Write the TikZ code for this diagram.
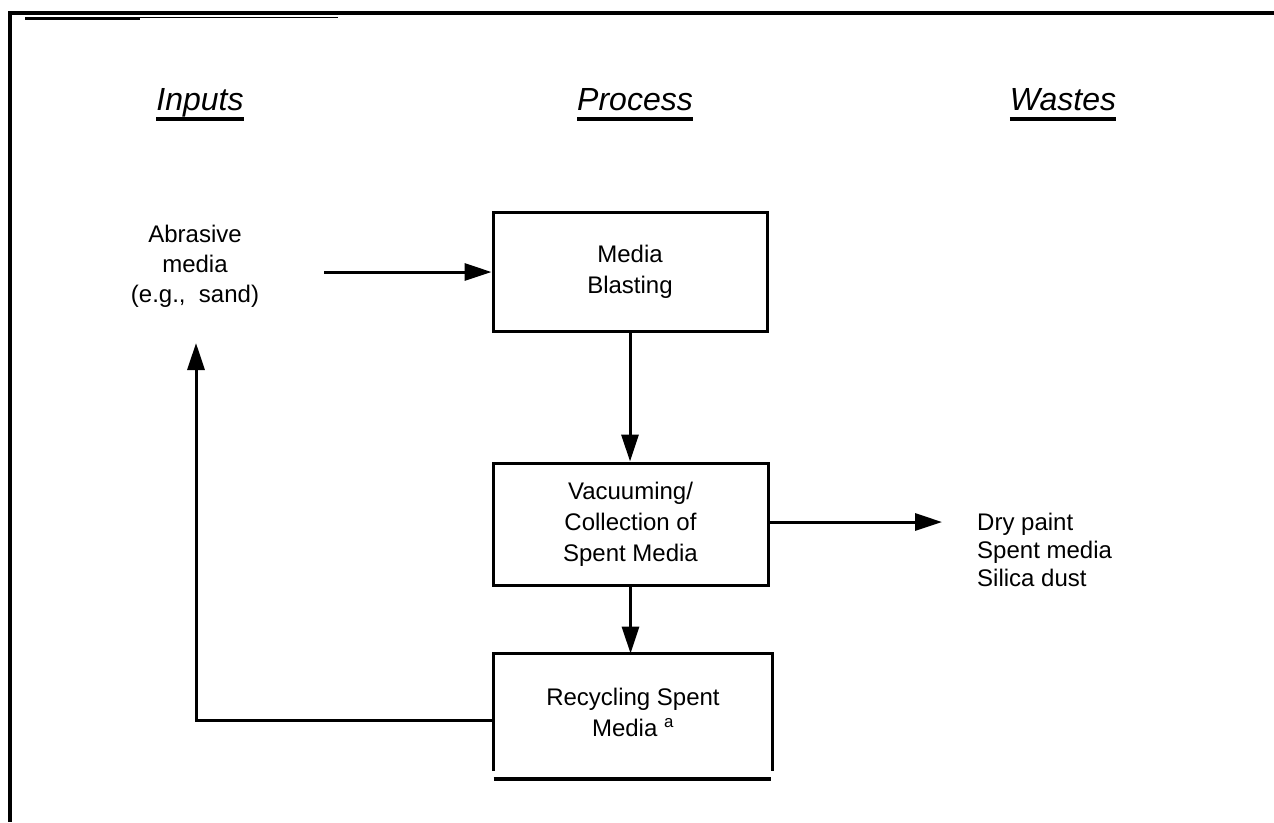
\documentclass[tikz,border=0pt]{standalone}
\usepackage{fontspec}
\setmainfont{Liberation Sans}
\usetikzlibrary{arrows.meta,calc}

\tikzset{
  procbox/.style={draw, line width=3pt, inner sep=0pt, align=center,
    font=\fontsize{24}{31}\selectfont},
  plaintext/.style={inner sep=0pt, font=\fontsize{24}{30}\selectfont},
  header/.style={inner sep=0pt, anchor=base, font=\fontsize{32}{36}\selectfont\itshape},
  flow/.style={line width=3pt, -{Triangle[length=27pt,width=17pt]}},
  rule/.style={line width=3.2pt},
}

\begin{document}
\begin{tikzpicture}[x=1pt,y=-1pt]
  \useasboundingbox (0,0) rectangle (1274,822);
  \fill[white] (0,0) rectangle (1274,822);

  % page frame
  \draw[line width=3.5pt] (8,13) -- (1274,13);
  \draw[line width=4pt] (10,11) -- (10,822);
  \draw[line width=3pt] (25,18) -- (140,18);
  \draw[line width=1.5pt] (140,17.5) -- (338,17.5);

  % column headers
  \node[header] (hin)  at (200,110)  {Inputs};
  \node[header] (hpro) at (635,110)  {Process};
  \node[header] (hwas) at (1063,110) {Wastes};
  \foreach \h in {hin,hpro,hwas}
    \draw[rule] ([yshift=-9pt]\h.base west) -- ([yshift=-9pt]\h.base east);

  % process steps
  \node[procbox, minimum width=274pt, minimum height=119pt] (blast) at (630,271.5)
    {Media\\Blasting};
  \node[procbox, minimum width=275pt, minimum height=122pt] (vac) at (630.5,524)
    {Vacuuming/\\Collection of\\Spent Media};
  \node[procbox, draw=none, minimum width=276pt, minimum height=114pt] (recy) at (633,712)
    {Recycling Spent\\Media \textsuperscript{a}};
  \draw[line width=2.6pt] (recy.south west) -- (recy.north west) -- (recy.north east) -- (recy.south east);
  \draw[line width=4pt] ($(recy.south west)+(0,8)$) -- ($(recy.south east)+(-2,8)$);

  % inputs and wastes
  \node[plaintext, align=center] (abr) at (195,266)
    {Abrasive\\media\\(e.g.,\ \ sand)};
  \node[plaintext, align=left, anchor=west, font=\fontsize{24}{28}\selectfont] (waste) at (977,550)
    {Dry paint\\Spent media\\Silica dust};

  % connectors
  \coordinate (feed) at (324,272);
  \draw[flow] (feed) -- (feed -| blast.west);
  \draw[flow] (blast.south) -- (blast.south |- vac.north);
  \draw[flow] (vac.south) -- (vac.south |- recy.north);
  \coordinate (wout) at (942,522);
  \draw[flow] (vac.east |- wout) -- (wout);
  \coordinate (turn) at (196,720);
  \coordinate (ret) at (196,343);
  \draw[flow] (recy.west |- turn) -- (turn) -- (ret);
\end{tikzpicture}
\end{document}
